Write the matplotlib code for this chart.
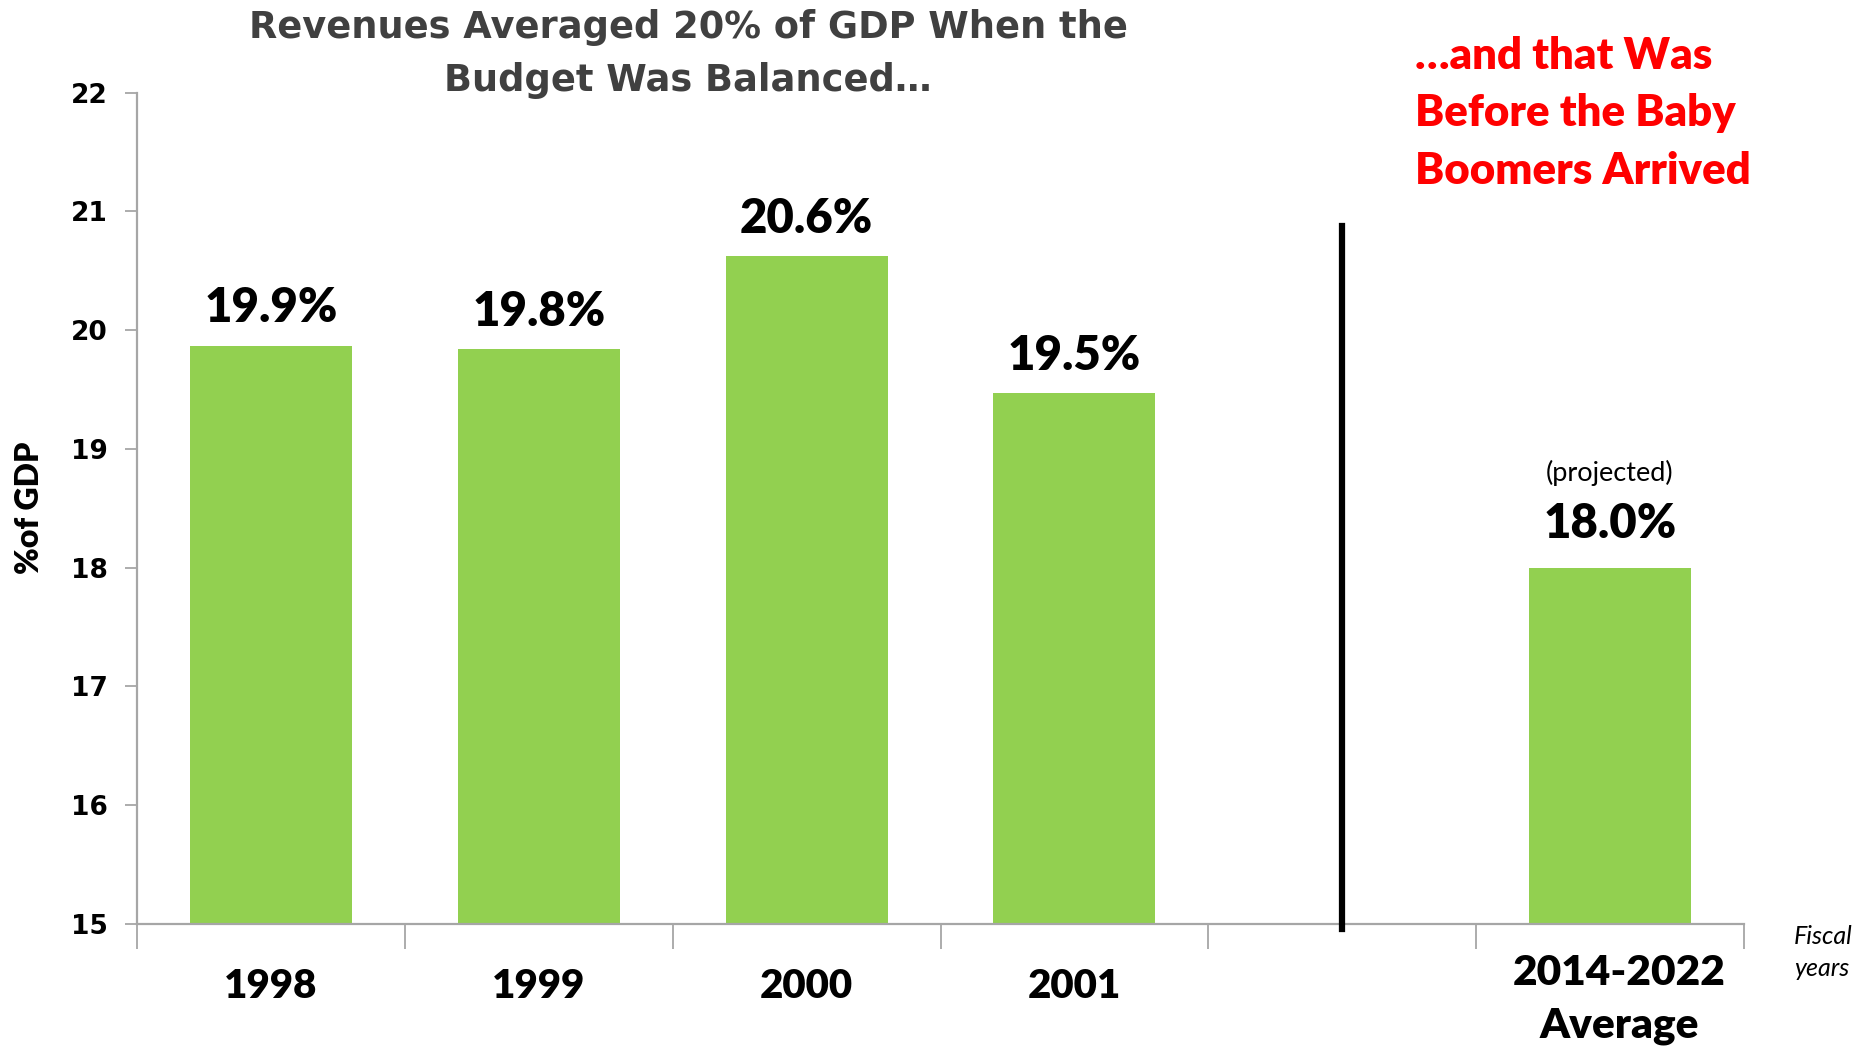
import matplotlib.pyplot as plt
import matplotlib.transforms as mtransforms

categories = ["1998", "1999", "2000", "2001", "", "2014-2022\nAverage"]
values = [19.87, 19.84, 20.62, 19.47, None, 18.0]
value_labels = ["19.9%", "19.8%", "20.6%", "19.5%", "", "18.0%"]
y_ticks = [15, 16, 17, 18, 19, 20, 21, 22]

green = "#92D050"
axis_grey = "#A6A6A6"

fig = plt.figure(figsize=(18.6, 10.5), dpi=100)
ax = fig.add_axes([0.0737, 0.12, 0.8639, 0.7919])

pos = [i for i, v in enumerate(values) if v is not None]
vals = [values[i] for i in pos]
ax.bar(pos, [v - 15 for v in vals], bottom=15, width=0.605, color=green, zorder=2)

for i in pos:
    off = 0.18 if i == 5 else 0.13
    ax.text(i, values[i] + off, value_labels[i], ha="center", va="bottom",
            fontsize=34, fontweight="heavy", family="Lato", color="black")

ax.text(5, 18.0 + 0.69, "(projected)", ha="center", va="bottom",
        fontsize=19.5, family="Lato", color="black")

# divider between the actual years and the projection
ax.plot([4, 4], [14.96, 20.88], color="black", lw=4.5, clip_on=False, zorder=3)

ax.set_xlim(-0.5, 5.5)
ax.set_ylim(15, 22)
ax.set_yticks(y_ticks)
ax.set_yticklabels([str(t) for t in y_ticks], fontsize=19, fontweight="heavy",
                   family="DejaVu Sans")
ax.tick_params(axis="y", length=9, width=1.3, color=axis_grey, pad=12)

ax.set_xticks([i - 0.5 for i in range(len(categories) + 1)])
ax.set_xticklabels([])
ax.tick_params(axis="x", length=18, width=1.3, color=axis_grey)

trans = mtransforms.blended_transform_factory(ax.transData, ax.transAxes)
for i, c in enumerate(categories):
    if not c:
        continue
    if "\n" in c:
        ax.text(i + 0.035, -0.036, c, transform=trans, ha="center", va="top",
                fontsize=30.5, fontweight="heavy", family="Lato", linespacing=1.47)
    else:
        ax.text(i, -0.0525, c, transform=trans, ha="center", va="top",
                fontsize=29, fontweight="heavy", family="Lato")

for s in ["top", "right"]:
    ax.spines[s].set_visible(False)
for s in ["left", "bottom"]:
    ax.spines[s].set_color(axis_grey)
    ax.spines[s].set_linewidth(1.6)

ax.set_ylabel("%of GDP", fontsize=23, fontweight="heavy", family="Lato", labelpad=10)
ax.yaxis.set_label_coords(-0.058, 0.5)

fig.text(0.37, 0.991, "Revenues Averaged 20% of GDP When the\nBudget Was Balanced\u2026",
         ha="center", va="top", fontsize=26.5, fontweight="bold", color="#404040",
         family="DejaVu Sans", linespacing=1.55)

fig.text(0.761, 0.966, "\u2026and that Was\nBefore the Baby\nBoomers Arrived",
         ha="left", va="top", fontsize=31.5, fontweight="heavy", color="#FF0000",
         family="Lato", linespacing=1.53)

fig.text(0.9645, 0.093, "Fiscal\nyears", ha="left", va="center", fontsize=18,
         style="italic", family="Lato", linespacing=1.5)

fig.savefig("out.png", dpi=100)
